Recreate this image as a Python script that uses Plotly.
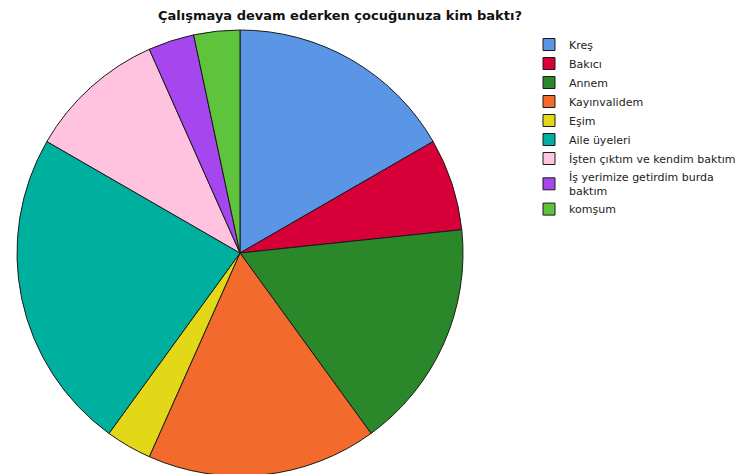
import plotly.graph_objects as go

categories = ["Kreş", "Bakıcı", "Annem", "Kayınvalidem", "Eşim", "Aile üyeleri",
              "İşten çıktım ve kendim baktım", "İş yerimize getirdim burda<br>baktım", "komşum"]
counts = [5, 2, 5, 5, 1, 7, 3, 1, 1]
colors = ["#5B95E5", "#D70039", "#2A882A", "#F26A2C", "#E3D818", "#00B09E",
          "#FFC3E0", "#A546EE", "#5DC43C"]

# page body adds an 8px offset; positions below are compensated
fig = go.Figure(go.Pie(
    labels=categories,
    values=counts,
    sort=False,
    direction="clockwise",
    rotation=0,
    textinfo="none",
    hoverinfo="label+value+percent",
    marker=dict(colors=colors, line=dict(color="#1a1a1a", width=1)),
    domain=dict(x=[9/745, 455/745], y=[0, 1]),
))

fig.update_layout(
    width=745, height=474,
    margin=dict(l=0, r=0, t=22, b=6, autoexpand=False),
    paper_bgcolor="white",
    plot_bgcolor="white",
    font=dict(family="DejaVu Sans, Arial, sans-serif", color="#000"),
    title=dict(text="<b>Çalışmaya devam ederken çocuğunuza kim baktı?</b>",
               x=332/745, xanchor="center", xref="paper",
               y=1-7/474, yanchor="middle", yref="container",
               font=dict(size=13, color="#111")),
    legend=dict(x=521/745, xanchor="left", y=1.0, yanchor="top",
                font=dict(size=11, color="#222"),
                traceorder="normal", bgcolor="rgba(0,0,0,0)",
                itemwidth=30, tracegroupgap=0),
    showlegend=True,
)

fig.write_html("out.html")
